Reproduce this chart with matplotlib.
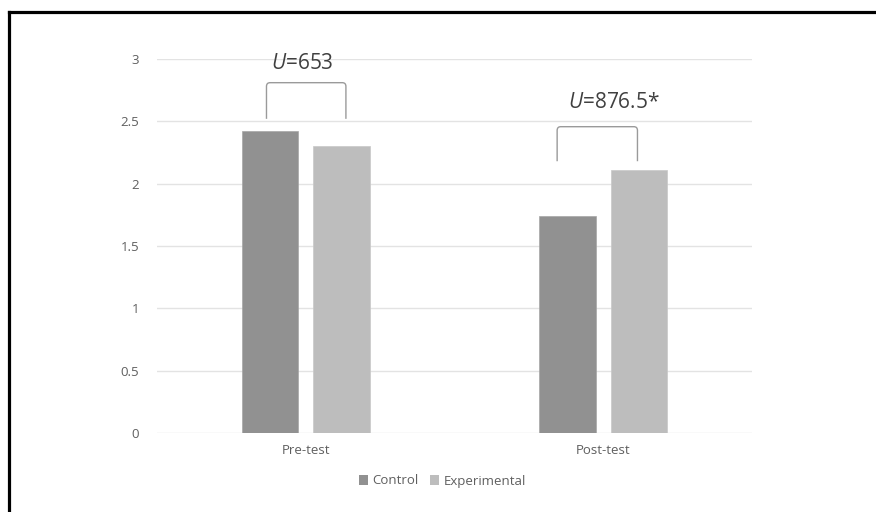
import matplotlib
matplotlib.use("Agg")
import matplotlib.pyplot as plt
from matplotlib.path import Path
from matplotlib.patches import PathPatch, Patch
from matplotlib.lines import Line2D
import numpy as np

plt.rcParams['font.family'] = ['Open Sans', 'DejaVu Sans']
plt.rcParams['mathtext.fontset'] = 'custom'
plt.rcParams['mathtext.rm'] = 'Open Sans'
plt.rcParams['mathtext.it'] = 'Open Sans:italic'

categories = ["Pre-test", "Post-test"]
series_names = ["Control", "Experimental"]
control = [2.42, 1.74]
experimental = [2.30, 2.11]
yticks = [0, 0.5, 1, 1.5, 2, 2.5, 3]
ytick_labels = ["0", "0.5", "1", "1.5", "2", "2.5", "3"]
annotations = ["$\\mathit{U}$=653", "$\\mathit{U}$=876.5*"]
# bracket spans (x offsets from category centre) and heights
bracket_x = [(-0.132, 0.135), (-0.155, 0.115)]
bracket_y = [(2.52, 2.81), (2.18, 2.457)]
label_y = [2.96, 2.65]
label_x = [-0.012, 0.035]

colors = ["#919191", "#bdbdbd"]

fig = plt.figure(figsize=(8.76, 5.12), dpi=100)
ax = fig.add_axes([157/876, 1-433/512, (752-157)/876, (433-59)/512])

x = np.arange(len(categories))
w = 0.189
off = 0.12
ax.bar(x - off, control, width=w, color=colors[0], edgecolor="#a6a6a6", linewidth=0.5, label=series_names[0], zorder=3)
ax.bar(x + off, experimental, width=w, color=colors[1], edgecolor="#c8c8c8", linewidth=0.5, label=series_names[1], zorder=3)

ax.set_xlim(-0.5, 1.5)
ax.set_ylim(0, 3)
ax.set_yticks(yticks)
ax.set_yticklabels(ytick_labels)
ax.set_xticks(x)
ax.set_xticklabels(categories)
ax.tick_params(axis='both', length=0, colors="#5f5f5f", labelsize=9.5)
ax.tick_params(axis='y', pad=13)
ax.tick_params(axis='x', pad=8)
ax.grid(axis='y', color="#e3e3e3", linewidth=1.0, zorder=0)
for s in ax.spines.values():
    s.set_visible(False)

# brackets
for i in range(len(categories)):
    x0, x1 = x[i] + bracket_x[i][0], x[i] + bracket_x[i][1]
    yb, yt = bracket_y[i]
    dx, dy = 0.012, 0.03
    verts = [(x0, yb), (x0, yt - dy), (x0, yt), (x0 + dx, yt),
             (x1 - dx, yt), (x1, yt), (x1, yt - dy), (x1, yb)]
    codes = [Path.MOVETO, Path.LINETO, Path.CURVE3, Path.CURVE3,
             Path.LINETO, Path.CURVE3, Path.CURVE3, Path.LINETO]
    ax.add_patch(PathPatch(Path(verts, codes), facecolor='none', edgecolor="#9a9a9a", linewidth=1.0, zorder=4))
    ax.text(x[i] + label_x[i], label_y[i], annotations[i], ha='center', va='center',
            fontsize=15, color="#404040", zorder=5)

handles = [Patch(facecolor=colors[0]), Patch(facecolor=colors[1])]
fig.legend(handles, series_names, loc='center', bbox_to_anchor=(0.505, 1-481/512), ncol=2,
           frameon=False, fontsize=9.5, labelcolor="#5f5f5f", handlelength=0.7, handleheight=0.7,
           handletextpad=0.3, columnspacing=0.9)

# frame lines (top and left)
fig.add_artist(Line2D([8.5/876, 1], [1-11.7/512, 1-11.7/512], transform=fig.transFigure, color="black", linewidth=2.3, solid_capstyle='projecting'))
fig.add_artist(Line2D([8.5/876, 8.5/876], [0, 1-11.7/512], transform=fig.transFigure, color="black", linewidth=2.3, solid_capstyle='projecting'))

fig.savefig("out.png", dpi=100, facecolor="white")
